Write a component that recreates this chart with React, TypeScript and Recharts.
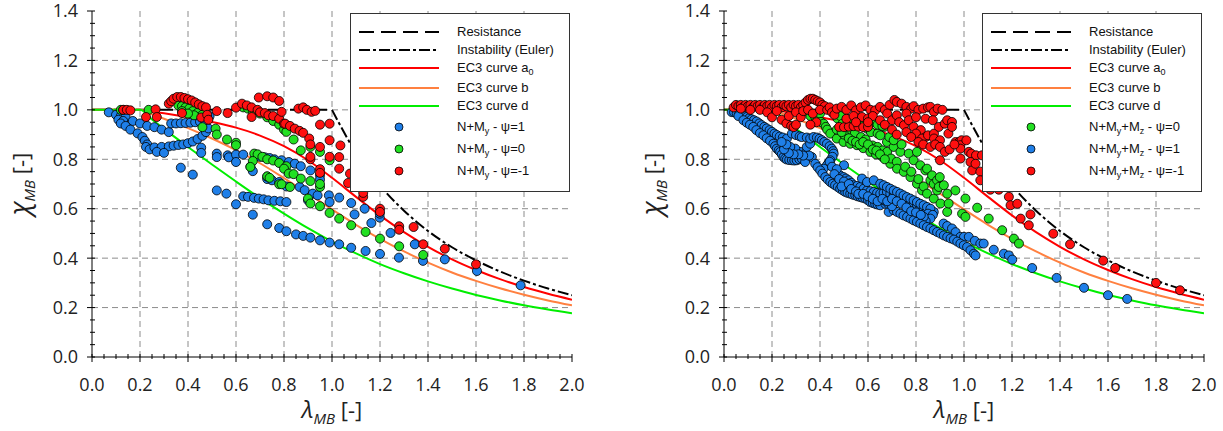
import type { ReactNode } from 'react'
import { ComposedChart, Line, Scatter, XAxis, YAxis, CartesianGrid } from 'recharts'

type Pt = [number, number]

// EC3 buckling curves
const lambdaGrid = [0, 0.1, 0.2, 0.25, 0.3, 0.4, 0.5, 0.6, 0.7, 0.8, 0.9, 1.0, 1.1, 1.2, 1.3, 1.4, 1.5, 1.6, 1.7, 1.8, 1.9, 2.0]
const chiCurveA0 = [1, 1, 1, 0.993, 0.986, 0.97, 0.951, 0.928, 0.896, 0.853, 0.796, 0.725, 0.648, 0.573, 0.505, 0.446, 0.395, 0.352, 0.315, 0.283, 0.256, 0.232]
const chiCurveB = [1, 1, 1, 0.982, 0.964, 0.926, 0.884, 0.837, 0.784, 0.724, 0.661, 0.597, 0.535, 0.478, 0.427, 0.382, 0.342, 0.308, 0.278, 0.252, 0.229, 0.209]
const chiCurveD = [1, 1, 1, 0.961, 0.923, 0.85, 0.779, 0.71, 0.643, 0.58, 0.521, 0.467, 0.419, 0.376, 0.339, 0.306, 0.277, 0.251, 0.229, 0.209, 0.192, 0.177]

const lambdaResistance = [0, 1.0]
const chiResistance = [1, 1]
const lambdaEuler = [1.0, 1.1, 1.2, 1.3, 1.4, 1.5, 1.6, 1.7, 1.8, 1.9, 2.0]
const chiEuler = [1.0, 0.826, 0.694, 0.592, 0.51, 0.444, 0.391, 0.346, 0.309, 0.277, 0.25]

const xMajorTicks = [0, 0.2, 0.4, 0.6, 0.8, 1.0, 1.2, 1.4, 1.6, 1.8, 2.0]
const yMajorTicks = [0, 0.2, 0.4, 0.6, 0.8, 1.0, 1.2, 1.4]
const xMinorTicks = Array.from({ length: 41 }, (_, i) => i * 0.05)
const yMinorTicks = Array.from({ length: 29 }, (_, i) => i * 0.05)

// left panel: N+My
const leftPsi1: Pt[] = [
  [0.07, 0.99], [0.1, 0.98], [0.12, 0.975], [0.14, 0.97], [0.11, 0.96], [0.13, 0.955], [0.17, 0.955], [0.2, 0.945],
  [0.23, 0.935], [0.26, 0.93], [0.29, 0.92], [0.32, 0.91], [0.12, 0.945], [0.14, 0.935], [0.16, 0.92], [0.19, 0.905],
  [0.21, 0.89], [0.22, 0.875], [0.23, 0.86], [0.225, 0.85], [0.24, 0.84], [0.33, 0.945], [0.35, 0.945], [0.37, 0.946],
  [0.39, 0.947], [0.41, 0.948], [0.43, 0.95], [0.45, 0.952], [0.47, 0.958], [0.485, 0.965], [0.49, 0.975],
  [0.26, 0.848], [0.29, 0.85], [0.32, 0.852], [0.34, 0.855], [0.36, 0.858], [0.38, 0.86], [0.4, 0.865], [0.42, 0.872],
  [0.44, 0.882], [0.46, 0.895], [0.475, 0.91], [0.485, 0.925], [0.27, 0.83], [0.3, 0.826], [0.455, 0.847], [0.455, 0.826],
  [0.37, 0.766], [0.42, 0.738], [0.52, 0.823], [0.52, 0.809], [0.565, 0.816], [0.57, 0.808], [0.6, 0.819], [0.6, 0.789],
  [0.63, 0.819], [0.52, 0.674], [0.56, 0.661], [0.6, 0.618], [0.63, 0.65], [0.65, 0.648], [0.675, 0.644], [0.695, 0.641],
  [0.715, 0.638], [0.735, 0.634], [0.76, 0.632], [0.785, 0.63], [0.81, 0.627], [0.67, 0.576], [0.73, 0.537], [0.78, 0.522],
  [0.81, 0.509], [0.85, 0.496], [0.88, 0.49], [0.91, 0.483], [0.95, 0.472], [0.99, 0.463], [1.03, 0.456], [1.08, 0.442],
  [1.14, 0.429], [1.2, 0.417], [0.68, 0.815], [0.7, 0.81], [0.72, 0.808], [0.74, 0.805], [0.76, 0.8], [0.79, 0.796],
  [0.82, 0.789], [0.845, 0.782], [0.87, 0.772], [0.91, 0.755], [0.95, 0.735], [0.95, 0.718], [0.66, 0.77], [0.67, 0.752],
  [0.73, 0.72], [0.73, 0.73], [0.75, 0.715], [0.78, 0.708], [0.81, 0.69], [0.865, 0.688], [0.886, 0.675], [0.92, 0.661],
  [0.94, 0.654], [0.9, 0.634], [0.987, 0.654], [0.99, 0.627], [1.03, 0.645], [1.08, 0.623], [1.094, 0.577], [1.136, 0.6],
  [1.164, 0.542], [1.199, 0.564], [1.199, 0.58], [1.244, 0.502], [1.279, 0.402], [1.345, 0.456], [1.379, 0.389],
  [1.47, 0.395], [1.604, 0.348], [1.786, 0.29],
]
const leftPsi0: Pt[] = [
  [0.12, 1.0], [0.13, 1.0], [0.236, 1.0], [0.36, 1.018], [0.375, 1.015], [0.39, 1.01], [0.405, 1.005], [0.42, 0.995],
  [0.44, 0.988], [0.46, 0.98], [0.375, 0.995], [0.425, 0.978], [0.48, 0.97], [0.4, 0.985], [0.46, 0.93], [0.515, 0.924],
  [0.52, 0.9], [0.5625, 0.88], [0.6, 0.867], [0.6, 0.857], [0.63, 1.01], [0.65, 1.005], [0.67, 0.995], [0.7, 0.985],
  [0.73, 0.97], [0.755, 0.955], [0.78, 0.94], [0.8, 0.92], [0.81, 0.911], [0.84, 0.88], [0.87, 0.836], [0.91, 0.85],
  [0.95, 0.83], [0.99, 0.796], [0.676, 0.823], [0.69, 0.82], [0.71, 0.81], [0.73, 0.8], [0.755, 0.795], [0.78, 0.785],
  [0.81, 0.772], [0.67, 0.793], [0.66, 0.769], [0.73, 0.731], [0.74, 0.725], [0.78, 0.699], [0.8, 0.762], [0.82, 0.742],
  [0.84, 0.74], [0.87, 0.722], [0.91, 0.712], [0.95, 0.688], [0.95, 0.7], [0.79, 0.699], [0.825, 0.688], [0.9, 0.641],
  [0.91, 0.621], [0.95, 0.61], [0.99, 0.583], [1.03, 0.56], [1.08, 0.533], [1.14, 0.506], [1.2, 0.479], [1.28, 0.448],
  [1.38, 0.413],
]
const leftPsiM1: Pt[] = [
  [0.13, 1.0], [0.145, 1.0], [0.16, 0.998], [0.225, 0.971], [0.265, 1.002], [0.27, 0.971], [0.32, 1.025], [0.33, 1.035],
  [0.34, 1.045], [0.355, 1.052], [0.37, 1.052], [0.385, 1.048], [0.4, 1.043], [0.415, 1.038], [0.43, 1.03], [0.445, 1.022],
  [0.46, 1.015], [0.475, 1.01], [0.375, 0.987], [0.455, 0.969], [0.48, 0.98], [0.485, 0.96], [0.52, 0.995], [0.565, 0.987],
  [0.6, 1.009], [0.625, 1.025], [0.645, 1.018], [0.665, 1.01], [0.69, 1.0], [0.7, 0.99], [0.72, 0.987], [0.665, 0.971],
  [0.695, 1.05], [0.73, 1.055], [0.755, 1.05], [0.78, 1.036], [0.735, 0.978], [0.755, 0.975], [0.78, 0.964], [0.8, 0.944],
  [0.79, 0.992], [0.805, 0.944], [0.825, 0.935], [0.845, 0.924], [0.865, 0.915], [0.88, 0.907], [0.905, 0.884],
  [0.91, 0.86], [0.95, 0.85], [0.99, 0.877], [0.95, 0.94], [0.99, 0.944], [0.86, 1.005], [0.88, 1.01], [0.895, 1.0],
  [0.915, 0.992], [0.93, 0.996], [1.035, 0.856], [1.03, 0.809], [1.03, 0.762], [1.075, 0.742], [0.95, 0.76], [0.95, 0.745],
  [0.91, 0.8], [0.91, 0.81], [0.99, 0.81], [1.067, 0.704], [1.13, 0.648], [1.13, 0.664], [1.2, 0.6], [1.2, 0.587],
  [1.28, 0.529], [1.28, 0.515], [1.34, 0.526], [1.38, 0.456], [1.47, 0.438], [1.6, 0.375],
]

// right panel: N+My+Mz
const rightPsi0: Pt[] = [
  [0.36, 0.975], [0.38, 0.971], [0.39, 0.96], [0.4, 0.985], [0.404, 0.951], [0.415, 0.944], [0.424, 0.931], [0.43, 0.92],
  [0.443, 0.904], [0.457, 0.985], [0.47, 0.884], [0.473, 0.965], [0.485, 0.975], [0.494, 0.944], [0.498, 0.87],
  [0.512, 0.964], [0.52, 0.918], [0.526, 0.863], [0.54, 0.96], [0.545, 0.905], [0.554, 0.857], [0.557, 0.951],
  [0.568, 0.937], [0.571, 0.89], [0.58, 0.845], [0.596, 0.924], [0.59, 0.88], [0.61, 0.83], [0.612, 0.91], [0.619, 0.856],
  [0.633, 0.82], [0.64, 0.904], [0.64, 0.85], [0.651, 0.897], [0.66, 0.81], [0.661, 0.836], [0.668, 0.931], [0.679, 0.87],
  [0.68, 0.83], [0.689, 0.89], [0.693, 0.782], [0.696, 0.803], [0.707, 0.85], [0.707, 0.877], [0.72, 0.79], [0.721, 0.762],
  [0.735, 0.83], [0.74, 0.86], [0.749, 0.749], [0.755, 0.77], [0.77, 0.823], [0.777, 0.728], [0.78, 0.75], [0.79, 0.796],
  [0.804, 0.83], [0.804, 0.701], [0.81, 0.72], [0.818, 0.776], [0.825, 0.674], [0.832, 0.69], [0.839, 0.755],
  [0.846, 0.762], [0.846, 0.661], [0.86, 0.715], [0.867, 0.735], [0.874, 0.641], [0.874, 0.7], [0.888, 0.674],
  [0.888, 0.715], [0.895, 0.688], [0.899, 0.728], [0.902, 0.621], [0.916, 0.695], [0.93, 0.587], [0.93, 0.661],
  [0.936, 0.621], [0.964, 0.674], [0.992, 0.58], [1.006, 0.641], [1.006, 0.567], [1.055, 0.604], [1.103, 0.56],
  [1.159, 0.513], [1.208, 0.479], [1.229, 0.459], [0.62, 0.95], [0.64, 0.94], [0.66, 0.935], [0.58, 0.955], [0.6, 0.945],
  [0.5, 0.9], [0.52, 0.885], [0.535, 0.875], [0.55, 0.87], [0.565, 0.86], [0.58, 0.87], [0.6, 0.86], [0.62, 0.84],
  [0.635, 0.835], [0.65, 0.82], [0.67, 0.8], [0.47, 0.92], [0.49, 0.91],
]
const rightPsi1: Pt[] = [
  [0.032, 0.991], [0.042, 0.99], [0.053, 0.985], [0.063, 0.982], [0.074, 0.978], [0.085, 0.975], [0.095, 0.971],
  [0.105, 0.966], [0.115, 0.962], [0.125, 0.958], [0.136, 0.953], [0.147, 0.945], [0.157, 0.938], [0.168, 0.931],
  [0.178, 0.925], [0.19, 0.918], [0.2, 0.911], [0.21, 0.904], [0.22, 0.898], [0.232, 0.892], [0.245, 0.888],
  [0.262, 0.884], [0.283, 0.904], [0.3, 0.898], [0.315, 0.893], [0.324, 0.89], [0.345, 0.888],
  [0.06, 0.975], [0.081, 0.958], [0.095, 0.948], [0.108, 0.94], [0.122, 0.931], [0.135, 0.918], [0.15, 0.906],
  [0.164, 0.897], [0.178, 0.885], [0.192, 0.875], [0.206, 0.863], [0.213, 0.853], [0.22, 0.843], [0.228, 0.836],
  [0.234, 0.83], [0.241, 0.82], [0.248, 0.809], [0.255, 0.803], [0.262, 0.799], [0.272, 0.797], [0.283, 0.796],
  [0.293, 0.795], [0.303, 0.796], [0.314, 0.8], [0.324, 0.803], [0.338, 0.789], [0.317, 0.83], [0.297, 0.843],
  [0.276, 0.85], [0.338, 0.823], [0.345, 0.85], [0.359, 0.863], [0.366, 0.809], [0.355, 0.815], [0.33, 0.815],
  [0.31, 0.82], [0.29, 0.82], [0.27, 0.825], [0.25, 0.84], [0.26, 0.86], [0.24, 0.87],
  [0.359, 0.884], [0.373, 0.89], [0.387, 0.888], [0.398, 0.883], [0.408, 0.877], [0.418, 0.87], [0.429, 0.863],
  [0.44, 0.853], [0.449, 0.843], [0.455, 0.833], [0.457, 0.823], [0.452, 0.81], [0.443, 0.796], [0.436, 0.786],
  [0.429, 0.776], [0.415, 0.762], [0.5, 0.776],
  [0.38, 0.782], [0.39, 0.768], [0.401, 0.755], [0.41, 0.742], [0.422, 0.728], [0.432, 0.718], [0.443, 0.708],
  [0.453, 0.701], [0.463, 0.695], [0.474, 0.688], [0.484, 0.681], [0.495, 0.674], [0.505, 0.668], [0.515, 0.664],
  [0.526, 0.661], [0.536, 0.657], [0.547, 0.654], [0.557, 0.65], [0.568, 0.647], [0.578, 0.644], [0.589, 0.641],
  [0.6, 0.634], [0.61, 0.627], [0.62, 0.623], [0.63, 0.62], [0.64, 0.617], [0.651, 0.614], [0.672, 0.62], [0.686, 0.587],
  [0.47, 0.742], [0.484, 0.735], [0.498, 0.728], [0.508, 0.722], [0.519, 0.715], [0.53, 0.705], [0.54, 0.695],
  [0.554, 0.692], [0.568, 0.688], [0.582, 0.681], [0.596, 0.674], [0.61, 0.671], [0.624, 0.668], [0.638, 0.664],
  [0.651, 0.661], [0.665, 0.664], [0.679, 0.668], [0.693, 0.661], [0.707, 0.654], [0.721, 0.65], [0.735, 0.647],
  [0.749, 0.637], [0.763, 0.627], [0.777, 0.624], [0.79, 0.621], [0.804, 0.614], [0.818, 0.607], [0.832, 0.6],
  [0.846, 0.594], [0.86, 0.59], [0.874, 0.587],
  [0.575, 0.722], [0.596, 0.708], [0.624, 0.715], [0.651, 0.701], [0.665, 0.695], [0.679, 0.688], [0.693, 0.681],
  [0.707, 0.674], [0.721, 0.668], [0.735, 0.661], [0.748, 0.654], [0.762, 0.647], [0.776, 0.641], [0.79, 0.634],
  [0.804, 0.627], [0.818, 0.62], [0.832, 0.614], [0.846, 0.607], [0.86, 0.6], [0.85, 0.58], [0.87, 0.575], [0.86, 0.56],
  [0.84, 0.55], [0.832, 0.567], [0.915, 0.54], [0.93, 0.53], [0.95, 0.52], [0.965, 0.505], [0.985, 0.486], [1.0, 0.486],
  [1.02, 0.486], [1.045, 0.47], [1.068, 0.459], [1.082, 0.459], [1.124, 0.434], [1.166, 0.418], [1.187, 0.411],
  [1.201, 0.394], [1.284, 0.36], [1.386, 0.32], [1.5, 0.28], [1.6, 0.25], [1.68, 0.235],
  [0.707, 0.594], [0.721, 0.587], [0.735, 0.58], [0.748, 0.573], [0.763, 0.567], [0.777, 0.56], [0.79, 0.553],
  [0.804, 0.547], [0.818, 0.54], [0.832, 0.533], [0.846, 0.526], [0.86, 0.52], [0.874, 0.513], [0.888, 0.506],
  [0.902, 0.499], [0.916, 0.492], [0.93, 0.486], [0.944, 0.48], [0.958, 0.475], [0.972, 0.467], [0.985, 0.459],
  [0.999, 0.452], [1.013, 0.445], [1.027, 0.432], [1.041, 0.418], [1.048, 0.411], [0.665, 0.634], [0.685, 0.62], [0.7, 0.61],
  [0.44, 0.79], [0.45, 0.77], [0.47, 0.76], [0.46, 0.74], [0.48, 0.72], [0.5, 0.71], [0.49, 0.69], [0.52, 0.7],
  [0.53, 0.68], [0.55, 0.67], [0.56, 0.66], [0.58, 0.66], [0.6, 0.65], [0.62, 0.64], [0.64, 0.63], [0.66, 0.64],
  [0.68, 0.63], [0.7, 0.64], [0.72, 0.63], [0.74, 0.62], [0.76, 0.605], [0.78, 0.59], [0.8, 0.585], [0.82, 0.575],
]
const rightPsiM1: Pt[] = [
  [0.04, 1.01], [0.05, 1.02], [0.06, 1.015], [0.07, 1.02], [0.08, 1.01], [0.09, 1.02], [0.1, 1.015], [0.11, 1.02],
  [0.12, 1.01], [0.13, 1.02], [0.14, 1.015], [0.15, 1.02], [0.16, 1.01], [0.17, 1.02], [0.18, 1.015], [0.19, 1.02],
  [0.2, 1.01], [0.21, 1.02], [0.22, 1.015], [0.23, 1.02], [0.24, 1.01], [0.25, 1.02], [0.26, 1.015], [0.27, 1.02],
  [0.28, 1.01], [0.29, 1.02], [0.3, 1.015], [0.31, 1.02], [0.32, 1.01], [0.33, 1.02],
  [0.07, 1.005], [0.11, 1.0], [0.15, 1.0], [0.18, 0.99], [0.2, 0.97], [0.22, 0.995], [0.24, 0.96], [0.26, 0.945],
  [0.28, 0.935], [0.29, 0.93], [0.3, 0.94], [0.27, 0.975], [0.3, 0.99], [0.32, 0.97], [0.33, 0.995],
  [0.34, 1.03], [0.35, 1.04], [0.36, 1.045], [0.37, 1.045], [0.38, 1.04], [0.39, 1.035], [0.4, 1.03], [0.41, 1.02],
  [0.42, 1.015], [0.35, 1.0], [0.37, 0.985], [0.385, 0.95], [0.36, 0.94], [0.4, 1.0], [0.43, 1.0], [0.44, 1.01],
  [0.45, 0.99], [0.46, 0.98],
  [0.47, 1.005], [0.49, 1.012], [0.51, 1.0], [0.53, 1.018], [0.55, 0.998], [0.57, 1.01], [0.59, 1.018], [0.61, 1.0],
  [0.63, 0.998], [0.65, 1.012], [0.67, 1.0], [0.69, 1.02], [0.71, 1.04], [0.72, 1.032], [0.74, 1.025], [0.76, 1.012],
  [0.78, 1.005], [0.79, 1.015], [0.81, 1.0], [0.83, 1.005], [0.85, 1.01], [0.86, 1.012], [0.875, 0.992], [0.89, 1.005],
  [0.91, 1.0],
  [0.48, 0.931], [0.5, 0.93], [0.52, 0.932], [0.54, 0.934], [0.56, 0.932], [0.58, 0.93], [0.6, 0.931], [0.51, 0.964],
  [0.54, 0.975], [0.575, 0.971], [0.6, 0.965], [0.62, 0.975], [0.65, 0.958], [0.68, 0.985], [0.7, 0.958], [0.72, 0.978],
  [0.73, 0.95], [0.75, 0.938], [0.76, 0.985], [0.77, 0.958], [0.79, 0.931], [0.8, 0.97], [0.82, 0.918], [0.8, 0.904],
  [0.84, 0.964], [0.84, 0.89], [0.825, 0.884], [0.85, 0.897], [0.87, 0.958], [0.875, 0.904], [0.875, 0.884],
  [0.895, 0.931], [0.9, 0.877], [0.92, 0.944], [0.93, 0.958], [0.935, 0.904], [0.95, 0.951], [0.95, 0.931],
  [0.965, 0.87], [0.98, 0.87], [0.99, 0.877], [0.985, 0.857], [0.985, 0.843], [1.01, 0.877], [1.02, 0.83],
  [1.03, 0.823], [1.05, 0.816], [1.075, 0.816], [0.9, 0.796], [0.985, 0.803], [1.027, 0.789], [1.034, 0.755],
  [1.048, 0.782], [1.068, 0.75], [1.068, 0.715], [1.11, 0.677], [1.145, 0.677], [1.187, 0.648], [1.194, 0.614],
  [1.222, 0.62], [1.236, 0.56], [1.277, 0.577], [1.27, 0.533], [1.372, 0.499], [1.442, 0.456], [1.58, 0.39],
  [1.63, 0.36], [1.8, 0.3], [1.9, 0.27],
  [0.55, 0.95], [0.6, 0.95], [0.67, 0.94], [0.7, 0.92], [0.72, 0.9], [0.76, 0.91], [0.78, 0.89], [0.81, 0.87],
  [0.83, 0.86], [0.86, 0.85], [0.88, 0.86], [0.9, 0.85], [0.92, 0.83], [0.94, 0.84], [0.96, 0.86],
]

const BLUE = '#1f7fe8'
const GREEN = '#22e022'
const RED = '#ff1010'
const TICK_FONT = "'Open Sans', sans-serif"
const LEGEND_FONT = "'Liberation Sans', Arial, sans-serif"

const toPts = (arr: Pt[]) => arr.map(([x, y]) => ({ x, y }))
const zipPts = (xs: number[], ys: number[]) => xs.map((x, i) => ({ x, y: ys[i] }))
const isMajor = (v: number) => Math.abs(v * 5 - Math.round(v * 5)) < 1e-6

function XTick(props: any) {
  const { x, y, payload } = props
  const v = payload.value as number
  const major = isMajor(v)
  return (
    <g>
      <line x1={x} x2={x} y1={y - 3} y2={y + (major ? 5 : 2)} stroke="#000" strokeWidth={1} />
      {major && (
        <text x={x} y={y + 34} textAnchor="middle" fontFamily={TICK_FONT} fontSize={18} fill="#222">
          {v.toFixed(1)}
        </text>
      )}
    </g>
  )
}

function YTick(props: any) {
  const { x, y, payload } = props
  const v = payload.value as number
  const major = isMajor(v)
  return (
    <g>
      <line x1={x - (major ? 5 : 2)} x2={x + 3} y1={y} y2={y} stroke="#000" strokeWidth={1} />
      {major && (
        <text x={x - 14} y={y} dy="0.36em" textAnchor="end" fontFamily={TICK_FONT} fontSize={18} fill="#222">
          {v.toFixed(1)}
        </text>
      )}
    </g>
  )
}

interface ScatterSeries {
  name: string
  color: string
  points: Pt[]
}

interface LegendEntry {
  label: ReactNode
  kind: 'line' | 'dot'
  color: string
  dash?: string
}

const sub = (s: string) => (
  <span style={{ fontSize: 9, position: 'relative', top: 3 }}>{s}</span>
)

const lineEntries: LegendEntry[] = [
  { label: 'Resistance', kind: 'line', color: '#000', dash: '15 7' },
  { label: 'Instability (Euler)', kind: 'line', color: '#000', dash: '11 3 3 3' },
  { label: <>EC3 curve a{sub('0')}</>, kind: 'line', color: '#ff0000' },
  { label: 'EC3 curve b', kind: 'line', color: '#ff8040' },
  { label: 'EC3 curve d', kind: 'line', color: '#00ee00' },
]

const rowCenters = [18, 36, 54, 74, 92, 113, 135, 157]

function PanelLegend({ entries, left, top, height }: { entries: LegendEntry[]; left: number; top: number; height: number }) {
  return (
    <div
      style={{
        position: 'absolute', left, top, width: 220, height, background: '#fff',
        border: '1px solid #333', boxSizing: 'border-box',
      }}
    >
      {entries.map((e, i) => (
        <div key={i} style={{ position: 'absolute', left: 0, top: rowCenters[i] - 9, height: 18, width: '100%' }}>
          <svg style={{ position: 'absolute', left: 8, top: 0 }} width={80} height={18}>
            {e.kind === 'line' ? (
              <line x1={0} x2={80} y1={9} y2={9} stroke={e.color} strokeWidth={2.2} strokeDasharray={e.dash} />
            ) : (
              <circle cx={40} cy={9} r={4} fill={e.color} stroke="#000" strokeWidth={0.8} />
            )}
          </svg>
          <span
            style={{
              position: 'absolute', left: 106, top: 0, lineHeight: '18px', fontFamily: LEGEND_FONT,
              fontSize: 13, color: '#111', whiteSpace: 'nowrap',
            }}
          >
            {e.label}
          </span>
        </div>
      ))}
    </div>
  )
}

function Panel({
  left, width, marginRight, series, legend,
}: { left: number; width: number; marginRight: number; series: ScatterSeries[]; legend: LegendEntry[] }) {
  const H = 431
  const plotLeft = 92
  const plotRight = width - marginRight
  const midX = (plotLeft + plotRight) / 2
  return (
    <div style={{ position: 'absolute', left, top: 0, width, height: H }}>
      <ComposedChart width={width} height={H} margin={{ top: 11, right: marginRight, bottom: 0, left: 0 }}>
        <CartesianGrid
          stroke="#8c8c8c"
          strokeDasharray="6 4"
          horizontalValues={yMajorTicks.slice(1, -1)}
          verticalValues={xMajorTicks.slice(1, -1)}
        />
        <XAxis
          type="number" dataKey="x" domain={[0, 2]} ticks={xMinorTicks} interval={0}
          tick={(p: any) => <XTick {...p} />} tickLine={false} tickSize={0} tickMargin={0}
          height={74} axisLine={{ stroke: '#000' }} allowDataOverflow
        />
        <XAxis
          xAxisId="top" orientation="top" type="number" domain={[0, 2]} height={0}
          tick={false} tickLine={false} axisLine={{ stroke: '#333' }}
        />
        <YAxis
          type="number" dataKey="y" domain={[0, 1.4]} ticks={yMinorTicks} interval={0}
          tick={(p: any) => <YTick {...p} />} tickLine={false} tickSize={0} tickMargin={0}
          width={92} axisLine={{ stroke: '#000' }} allowDataOverflow
        />
        <YAxis
          yAxisId="right" orientation="right" type="number" domain={[0, 1.4]} width={0}
          tick={false} tickLine={false} axisLine={{ stroke: '#333' }}
        />
        <Line data={zipPts(lambdaResistance, chiResistance)} dataKey="y" type="linear" stroke="#000" strokeWidth={2}
          strokeDasharray="15 7" dot={false} activeDot={false} isAnimationActive={false} />
        <Line data={zipPts(lambdaEuler, chiEuler)} dataKey="y" type="monotone" stroke="#000" strokeWidth={2}
          strokeDasharray="11 3 3 3" dot={false} activeDot={false} isAnimationActive={false} />
        <Line data={zipPts(lambdaGrid, chiCurveA0)} dataKey="y" type="monotone" stroke="#ff0000" strokeWidth={2}
          dot={false} activeDot={false} isAnimationActive={false} />
        <Line data={zipPts(lambdaGrid, chiCurveB)} dataKey="y" type="monotone" stroke="#ff8040" strokeWidth={2}
          dot={false} activeDot={false} isAnimationActive={false} />
        <Line data={zipPts(lambdaGrid, chiCurveD)} dataKey="y" type="monotone" stroke="#00ee00" strokeWidth={2}
          dot={false} activeDot={false} isAnimationActive={false} />
        {series.map((s) => (
          <Scatter key={s.name} name={s.name} data={toPts(s.points)} dataKey="y" fill={s.color} stroke="#000"
            strokeWidth={0.8} isAnimationActive={false} />
        ))}
      </ComposedChart>
      <svg style={{ position: 'absolute', left: 0, top: 0, pointerEvents: 'none' }} width={width} height={H}>
        <text transform={`translate(29,184) rotate(-90)`} textAnchor="middle" fontFamily={TICK_FONT} fill="#222">
          <tspan fontSize={27} fontStyle="italic">χ</tspan>
          <tspan fontSize={15} fontStyle="italic" dy={6}>MB</tspan>
          <tspan fontSize={22} dy={-6}> [-]</tspan>
        </text>
        <text x={midX} y={418} textAnchor="middle" fontFamily={TICK_FONT} fill="#222">
          <tspan fontSize={24} fontStyle="italic">λ</tspan>
          <tspan fontSize={15} fontStyle="italic" dy={6}>MB</tspan>
          <tspan fontSize={22} dy={-6}> [-]</tspan>
        </text>
      </svg>
      <PanelLegend entries={legend} left={plotRight - 222} top={13} height={179} />
    </div>
  )
}

const leftSeries: ScatterSeries[] = [
  { name: 'N+My - psi=1', color: BLUE, points: leftPsi1 },
  { name: 'N+My - psi=0', color: GREEN, points: leftPsi0 },
  { name: 'N+My - psi=-1', color: RED, points: leftPsiM1 },
]
const rightSeries: ScatterSeries[] = [
  { name: 'N+My+Mz - psi=1', color: BLUE, points: rightPsi1 },
  { name: 'N+My+Mz - psi=0', color: GREEN, points: rightPsi0 },
  { name: 'N+My+Mz - psi=-1', color: RED, points: rightPsiM1 },
]

const leftLegend: LegendEntry[] = [
  ...lineEntries,
  { label: <>N+M{sub('y')} - ψ=1</>, kind: 'dot', color: BLUE },
  { label: <>N+M{sub('y')} - ψ=0</>, kind: 'dot', color: GREEN },
  { label: <>N+M{sub('y')} - ψ=-1</>, kind: 'dot', color: RED },
]
const rightLegend: LegendEntry[] = [
  ...lineEntries,
  { label: <>N+M{sub('y')}+M{sub('z')} - ψ=0</>, kind: 'dot', color: GREEN },
  { label: <>N+M{sub('y')}+M{sub('z')} - ψ=1</>, kind: 'dot', color: BLUE },
  { label: <>N+M{sub('y')}+M{sub('z')} - ψ=-1</>, kind: 'dot', color: RED },
]

export default function App() {
  return (
    <div style={{ position: 'absolute', left: 0, top: 0, width: 1223, height: 431, overflow: 'hidden', background: '#fff' }}>
      <Panel left={0} width={600} marginRight={28} series={leftSeries} legend={leftLegend} />
      <Panel left={632} width={591} marginRight={19} series={rightSeries} legend={rightLegend} />
    </div>
  )
}
